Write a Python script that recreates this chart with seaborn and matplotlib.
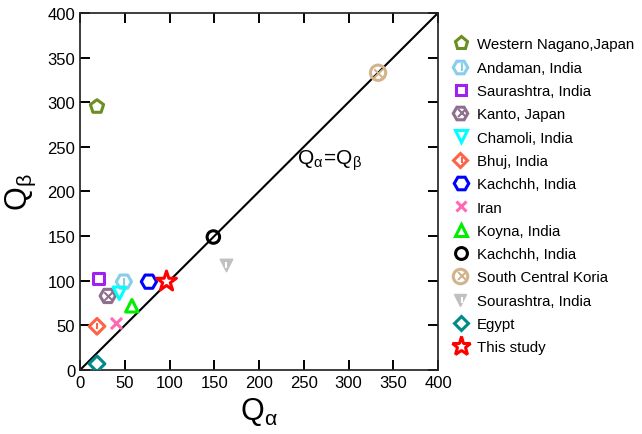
import matplotlib
matplotlib.use("Agg")
import matplotlib.pyplot as plt
import seaborn as sns
import pandas as pd
from matplotlib.lines import Line2D
from matplotlib.legend_handler import HandlerTuple

labels = ["Western Nagano,Japan", "Andaman, India", "Saurashtra, India", "Kanto, Japan",
          "Chamoli, India", "Bhuj, India", "Kachchh, India", "Iran", "Koyna, India",
          "Kachchh, India", "South Central Koria", "Sourashtra, India", "Egypt", "This study"]
q_alpha = [19, 49, 21, 31, 44, 19, 77, 40, 58, 149, 333, 163, 19, 96]
q_beta = [295, 99, 103, 83, 86, 49, 99, 53, 72, 149, 333, 118, 7, 100]
ticks = [0, 50, 100, 150, 200, 250, 300, 350, 400]
tick_labels = ["0", "50", "100", "150", "200", "250", "300", "350", "400"]

colors = ["#6B8E23", "#87CEEB", "#A020F0", "#8E6F8E", "#00FFFF", "#FF6347", "#0000FF",
          "#FF69B4", "#00EE00", "#000000", "#D2B48C", "#C0C0C0", "#008B8B", "#FF0000"]
markers = ["p", "H", "s", "H", "v", "D", "H", "x", "^", "o", "o", "v", "D", "*"]
inner = [None, "|", None, "x", None, "|", None, None, None, None, "x", "|", None, None]
sizes = [10, 11, 8, 11, 9, 8, 11, 8, 9, 9, 11, 9, 8, 15]
filled = [False, False, False, False, False, False, False, True, False, False, False, True, False, False]

sns.set_theme(style="ticks")
plt.rcParams["font.family"] = ["Liberation Sans", "DejaVu Sans"]
plt.rcParams["mathtext.fontset"] = "custom"
plt.rcParams["mathtext.rm"] = "Liberation Sans"
plt.rcParams["mathtext.it"] = "Liberation Sans"
plt.rcParams["text.color"] = "black"
plt.rcParams["axes.labelcolor"] = "black"
plt.rcParams["xtick.color"] = "black"
plt.rcParams["ytick.color"] = "black"

fig = plt.figure(figsize=(6.42, 4.35), dpi=100)
ax = fig.add_axes([0.1246, 0.147, 0.5577, 0.821])

df = pd.DataFrame({"label": labels, "qa": q_alpha, "qb": q_beta})

sns.lineplot(x=[0, 400], y=[0, 400], color="black", linewidth=1.5, ax=ax)

handles = []
for i in range(len(labels)):
    sub = df.iloc[[i]]
    c = colors[i]
    m = markers[i]
    s = sizes[i] ** 2
    if m == "x":
        sns.scatterplot(data=sub, x="qa", y="qb", marker="x", s=s, color=c, linewidth=2.2, ax=ax, zorder=3)
        h = Line2D([], [], marker="x", color=c, linestyle="none", markersize=sizes[i] * 0.85, markeredgewidth=2.2)
    elif filled[i]:
        sns.scatterplot(data=sub, x="qa", y="qb", marker=m, s=s, color=c, edgecolor=c, linewidth=1, ax=ax, zorder=3)
        h = Line2D([], [], marker=m, color=c, linestyle="none", markersize=sizes[i] * 0.95, markeredgecolor=c)
    else:
        sns.scatterplot(data=sub, x="qa", y="qb", marker=m, s=s, facecolor="white" if m == "*" else "none",
                        edgecolor=c, linewidth=2.2, ax=ax, zorder=3)
        h = Line2D([], [], marker=m, markerfacecolor="white" if m == "*" else "none", markeredgecolor=c,
                   linestyle="none", markersize=sizes[i] * 0.95, markeredgewidth=2.2)
    if inner[i] is not None:
        ic = "white" if filled[i] else c
        sns.scatterplot(data=sub, x="qa", y="qb", marker=inner[i], s=s * 0.3, color=ic, linewidth=1.5, ax=ax, zorder=4)
        h2 = Line2D([], [], marker=inner[i], color=ic, linestyle="none", markersize=sizes[i] * 0.5, markeredgewidth=1.5)
        h = (h, h2)
    handles.append(h)

ax.set_xlim(0, 400)
ax.set_ylim(0, 400)
ax.set_xticks(ticks, labels=tick_labels, fontsize=12)
ax.set_yticks(ticks, labels=tick_labels, fontsize=12)
ax.tick_params(direction="in", length=7, width=1.4, top=True, right=True, colors="black")

ax.set_xlabel(r"$\mathrm{Q}_{\alpha}$", fontsize=22, labelpad=4)
ax.set_ylabel(r"$\mathrm{Q}_{\beta}$", fontsize=22, labelpad=7)

ax.text(279, 236, r"$\mathrm{Q}_{\alpha}\!=\!\mathrm{Q}_{\beta}$", fontsize=15, ha="center", va="center")

leg = ax.legend(handles, labels, loc="upper left", bbox_to_anchor=(1.022, 0.948), frameon=False,
                fontsize=10.8, labelspacing=0.62, handletextpad=0.45, borderaxespad=0,
                handler_map={tuple: HandlerTuple(ndivide=None, pad=-1)}, handlelength=1.2)

fig.savefig("out.png", dpi=100)
